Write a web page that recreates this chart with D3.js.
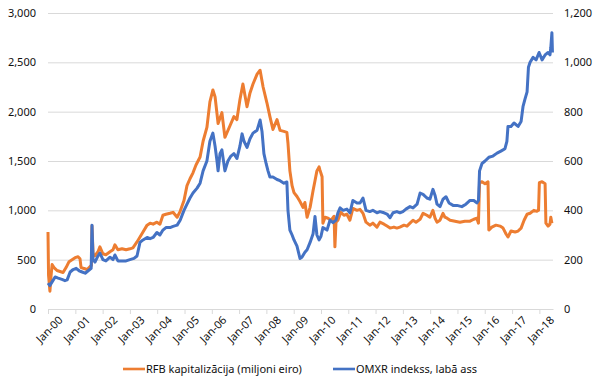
<!DOCTYPE html>
<html>
<head>
<meta charset="utf-8">
<script src="https://cdn.jsdelivr.net/npm/d3@7"></script>
<style>
  body { margin: 0; background: #fff; }
  text { font-family: "Noto Sans", sans-serif; fill: #111; }
  .axis text { font-size: 11px; }
  .axis path { stroke: #d9d9d9; }
  .axis line { stroke: #d9d9d9; }
  .grid line { stroke: #d9d9d9; }
  .grid path { display: none; }
  .legend text { font-size: 11px; }
</style>
</head>
<body>
<div id="chart"></div>
<script>
const WIDTH = 600, HEIGHT = 387;
const M = { top: 13, right: 47, bottom: 78, left: 48 };
const innerW = WIDTH - M.left - M.right;
const innerH = HEIGHT - M.top - M.bottom;

// series: [decimal year, value]
const rfbCap = [
  [2000.00,780],[2000.02,340],[2000.07,180],[2000.11,330],[2000.15,450],[2000.22,420],[2000.33,390],
  [2000.44,380],[2000.55,370],[2000.66,420],[2000.77,480],[2000.88,500],[2000.99,520],[2001.10,530],
  [2001.17,510],[2001.21,420],[2001.32,410],[2001.43,400],[2001.54,430],[2001.59,440],[2001.61,840],
  [2001.65,560],[2001.72,540],[2001.83,580],[2001.90,630],[2002.01,560],[2002.12,550],[2002.27,580],
  [2002.38,600],[2002.45,650],[2002.56,600],[2002.71,610],[2002.86,600],[2003.00,610],[2003.11,620],
  [2003.26,680],[2003.37,730],[2003.48,780],[2003.63,850],[2003.74,870],[2003.85,860],[2003.99,880],
  [2004.10,860],[2004.21,950],[2004.32,960],[2004.47,970],[2004.58,980],[2004.73,930],[2004.84,990],
  [2004.98,1100],[2005.09,1250],[2005.20,1320],[2005.31,1380],[2005.42,1460],[2005.57,1540],
  [2005.68,1700],[2005.82,1840],[2005.93,2100],[2006.04,2220],[2006.12,2150],[2006.23,1880],
  [2006.37,1990],[2006.48,1740],[2006.67,1860],[2006.81,1950],[2006.92,1920],[2007.03,2120],
  [2007.14,2280],[2007.29,2050],[2007.40,2190],[2007.51,2280],[2007.66,2380],[2007.77,2420],
  [2007.88,2250],[2008.02,2090],[2008.13,1950],[2008.24,1820],[2008.39,1920],[2008.50,1810],
  [2008.64,1800],[2008.75,1790],[2008.79,1680],[2008.86,1400],[2008.94,1250],[2009.01,1180],
  [2009.12,1140],[2009.23,1090],[2009.34,1030],[2009.41,1080],[2009.49,930],[2009.60,1030],
  [2009.71,1200],[2009.78,1300],[2009.85,1400],[2009.93,1440],[2009.96,1410],[2010.04,1340],
  [2010.07,870],[2010.15,930],[2010.26,920],[2010.37,900],[2010.48,940],[2010.51,630],[2010.55,880],
  [2010.62,900],[2010.73,980],[2010.84,950],[2010.95,960],[2011.06,900],[2011.17,1020],[2011.32,1000],
  [2011.43,1010],[2011.54,970],[2011.65,880],[2011.79,850],[2011.90,870],[2012.05,830],[2012.16,880],
  [2012.31,860],[2012.42,840],[2012.53,820],[2012.67,830],[2012.78,820],[2012.89,830],[2013.04,850],
  [2013.15,840],[2013.26,870],[2013.37,900],[2013.48,880],[2013.63,910],[2013.74,970],[2013.88,950],
  [2013.99,930],[2014.10,1000],[2014.18,920],[2014.25,880],[2014.36,900],[2014.47,970],[2014.54,930],
  [2014.62,920],[2014.73,900],[2014.91,890],[2015.09,880],[2015.27,890],[2015.46,890],[2015.60,910],
  [2015.71,920],[2015.77,870],[2015.81,1280],[2015.90,1290],[2016.01,1270],[2016.12,1290],
  [2016.15,800],[2016.26,830],[2016.41,850],[2016.56,840],[2016.67,820],[2016.78,760],[2016.85,730],
  [2016.96,790],[2017.11,780],[2017.22,790],[2017.33,820],[2017.44,900],[2017.55,960],[2017.66,970],
  [2017.80,1000],[2017.91,990],[2017.97,1000],[2018.00,1280],[2018.10,1290],[2018.21,1270],
  [2018.24,870],[2018.32,840],[2018.39,860],[2018.42,930],[2018.46,870]
];

const omxr = [
  [2000.00,105],[2000.07,95],[2000.15,110],[2000.26,130],[2000.37,125],[2000.51,120],[2000.62,115],
  [2000.70,118],[2000.81,150],[2000.92,160],[2001.03,165],[2001.14,155],[2001.25,150],[2001.36,145],
  [2001.47,155],[2001.58,165],[2001.61,340],[2001.65,200],[2001.72,190],[2001.83,215],[2001.90,227],
  [2002.01,200],[2002.12,195],[2002.27,210],[2002.38,200],[2002.45,219],[2002.56,195],[2002.71,195],
  [2002.86,195],[2003.00,200],[2003.15,205],[2003.26,215],[2003.37,270],[2003.48,280],[2003.63,290],
  [2003.74,285],[2003.85,290],[2003.99,310],[2004.10,300],[2004.21,320],[2004.32,330],[2004.47,330],
  [2004.58,335],[2004.73,340],[2004.84,360],[2004.98,400],[2005.09,425],[2005.20,450],[2005.31,470],
  [2005.46,490],[2005.57,510],[2005.68,560],[2005.82,600],[2005.93,680],[2006.04,713],[2006.12,660],
  [2006.19,600],[2006.23,560],[2006.30,630],[2006.37,645],[2006.48,560],[2006.59,600],[2006.70,620],
  [2006.81,630],[2006.92,610],[2007.03,660],[2007.11,710],[2007.18,680],[2007.29,655],[2007.40,690],
  [2007.51,713],[2007.66,725],[2007.77,766],[2007.84,720],[2007.91,630],[2007.99,590],[2008.06,560],
  [2008.13,535],[2008.24,535],[2008.39,525],[2008.50,520],[2008.64,510],[2008.75,515],[2008.79,400],
  [2008.86,320],[2008.94,300],[2009.01,280],[2009.12,255],[2009.23,205],[2009.30,210],[2009.41,230],
  [2009.49,240],[2009.60,270],[2009.71,305],[2009.78,375],[2009.85,300],[2009.93,280],[2010.00,295],
  [2010.07,330],[2010.15,325],[2010.22,320],[2010.33,360],[2010.44,350],[2010.55,360],[2010.62,390],
  [2010.70,410],[2010.81,400],[2010.95,405],[2011.06,390],[2011.17,440],[2011.32,430],[2011.43,430],
  [2011.54,450],[2011.65,400],[2011.79,395],[2011.90,400],[2012.05,390],[2012.16,395],[2012.31,390],
  [2012.42,385],[2012.53,370],[2012.64,390],[2012.78,395],[2012.89,390],[2013.00,395],[2013.11,405],
  [2013.26,415],[2013.37,410],[2013.52,425],[2013.63,470],[2013.74,465],[2013.88,450],[2013.99,445],
  [2014.10,485],[2014.18,460],[2014.25,425],[2014.36,415],[2014.47,445],[2014.58,455],[2014.69,430],
  [2014.84,420],[2014.98,420],[2015.16,415],[2015.31,425],[2015.46,440],[2015.60,440],[2015.71,430],
  [2015.77,440],[2015.81,560],[2015.90,590],[2016.01,600],[2016.15,615],[2016.30,620],[2016.45,632],
  [2016.59,640],[2016.74,650],[2016.81,680],[2016.85,740],[2016.96,740],[2017.07,754],[2017.22,740],
  [2017.33,760],[2017.40,820],[2017.47,850],[2017.55,880],[2017.60,980],[2017.66,1000],[2017.77,1020],
  [2017.88,1010],[2017.99,1040],[2018.10,1010],[2018.21,1030],[2018.32,1040],[2018.39,1030],
  [2018.42,1060],[2018.46,1120],[2018.48,1040]
];

const leftTicks = [0, 500, 1000, 1500, 2000, 2500, 3000];
const rightTicks = [0, 200, 400, 600, 800, 1000, 1200];
const legendLabels = ["RFB kapitalizācija (miljoni eiro)", "OMXR indekss, labā ass"];
const colors = ["#ED7D31", "#4472C4"];

function toDate(y) {
  const yr = Math.floor(y);
  const start = new Date(yr, 0, 1), end = new Date(yr + 1, 0, 1);
  return new Date(+start + (y - yr) * (end - start));
}

const svg = d3.select("#chart").append("svg")
  .attr("width", WIDTH).attr("height", HEIGHT);
const g = svg.append("g").attr("transform", `translate(${M.left},${M.top})`);

const x = d3.scaleTime()
  .domain([new Date(2000, 0, 1), toDate(2018.5)])
  .range([0, innerW]);
const yL = d3.scaleLinear().domain([0, 3000]).range([innerH, 0]);
const yR = d3.scaleLinear().domain([0, 1200]).range([innerH, 0]);

// gridlines
g.append("g").attr("class", "grid")
  .call(d3.axisLeft(yL).tickValues(leftTicks.slice(1)).tickSize(-innerW).tickFormat(""));

// x axis
const years = d3.range(2000, 2019).map(yy => new Date(yy, 0, 1));
const xAxis = g.append("g").attr("class", "axis")
  .attr("transform", `translate(0,${innerH})`)
  .call(d3.axisBottom(x).tickValues(years).tickSize(5).tickSizeOuter(0).tickFormat(d3.timeFormat("%b-%y")));
xAxis.selectAll("text")
  .attr("text-anchor", "end")
  .attr("dx", "0.2em").attr("dy", "1em")
  .attr("transform", "rotate(-45)");

// left / right axes
g.append("g").attr("class", "axis")
  .call(d3.axisLeft(yL).tickValues(leftTicks).tickSize(0).tickPadding(12).tickFormat(d3.format(",")))
  .call(s => s.select(".domain").remove());
g.append("g").attr("class", "axis")
  .attr("transform", `translate(${innerW},0)`)
  .call(d3.axisRight(yR).tickValues(rightTicks).tickSize(0).tickPadding(11).tickFormat(d3.format(",")))
  .call(s => s.select(".domain").remove());

// lines
const lineL = d3.line().x(d => x(toDate(d[0]))).y(d => yL(d[1]));
const lineR = d3.line().x(d => x(toDate(d[0]))).y(d => yR(d[1]));
g.append("path").datum(rfbCap).attr("fill", "none")
  .attr("stroke", colors[0]).attr("stroke-width", 3).attr("stroke-linejoin", "round")
  .attr("d", lineL);
g.append("path").datum(omxr).attr("fill", "none")
  .attr("stroke", colors[1]).attr("stroke-width", 3).attr("stroke-linejoin", "round")
  .attr("d", lineR);

// legend
const legendX = [123, 333];
const lg = svg.append("g").attr("class", "legend");
legendLabels.forEach((lab, i) => {
  lg.append("line")
    .attr("x1", legendX[i]).attr("x2", legendX[i] + 22)
    .attr("y1", 369).attr("y2", 369)
    .attr("stroke", colors[i]).attr("stroke-width", 2.6);
  lg.append("text")
    .attr("x", legendX[i] + 23).attr("y", 373)
    .text(lab);
});
</script>
</body>
</html>
